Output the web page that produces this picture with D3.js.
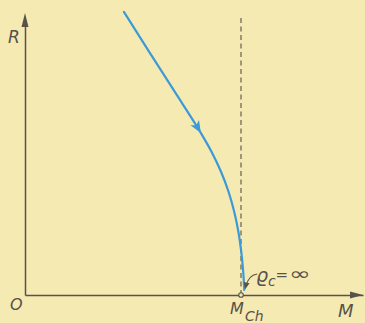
<!DOCTYPE html>
<html><head><meta charset="utf-8">
<script src="https://cdn.jsdelivr.net/npm/d3@7"></script>
<style>
html,body{margin:0;padding:0;background:#f6eab3;}
svg{display:block;}
</style></head>
<body>
<svg id="c" width="365" height="323"></svg>
<script>
// Mass (in units of the Chandrasekhar mass) and relative radius along the curve
const massValues   = [0.458, 0.575, 0.693, 0.810, 0.863, 0.907, 0.942, 0.968, 0.9875, 1.001, 1.010, 1.015];
const radiusValues = [1.004, 0.862, 0.721, 0.580, 0.509, 0.438, 0.367, 0.297, 0.226, 0.155, 0.085, 0.018];
const chandraMass = [1.0];
const axisLabels = ["R", "M", "O"];

const svg = d3.select("#c");
const W = 365, H = 323;
const x = d3.scaleLinear().domain([0, 1]).range([25, 241]);
const y = d3.scaleLinear().domain([0, 1]).range([295, 13]);
const ink = "#57524a";
const blue = "#3b9ad8";
const bg = "#f6eab3";

svg.append("rect").attr("width", W).attr("height", H).attr("fill", bg);

// axes (no ticks)
const xAxis = d3.axisBottom(d3.scaleLinear().domain([0, 1.565]).range([x(0), x(1.565)])).tickValues([]).tickSizeOuter(0);
const yAxis = d3.axisLeft(d3.scaleLinear().domain([0, 0.96]).range([y(0), y(0.96)])).tickValues([]).tickSizeOuter(0);
svg.append("g").attr("transform", `translate(0,${y(0)})`).call(xAxis)
  .select(".domain").attr("stroke", ink).attr("stroke-width", 1.5);
svg.append("g").attr("transform", `translate(${x(0)},0)`).call(yAxis)
  .select(".domain").attr("stroke", ink).attr("stroke-width", 1.5);

const xe = x(1.565), ye = y(1.0), y0 = y(0), x0 = x(0);
svg.append("path").attr("d", `M${xe},${y0} L${xe-13},${y0-3.5} L${xe-13},${y0+3.5} Z`).attr("fill", ink);
svg.append("path").attr("d", `M${x0},${ye} L${x0-3.5},${ye+14} L${x0+3.5},${ye+14} Z`).attr("fill", ink);

// dashed Chandrasekhar limit line
svg.append("line")
  .attr("x1", x(chandraMass[0])).attr("x2", x(chandraMass[0]))
  .attr("y1", y(0)).attr("y2", y(0.985))
  .attr("stroke", ink).attr("stroke-width", 1.1).attr("stroke-dasharray", "5,3.5");

// curve
const pts = massValues.map((m, i) => [x(m), y(radiusValues[i])]);
const line = d3.line().curve(d3.curveMonotoneY);
const path = svg.append("path").attr("d", line(pts))
  .attr("fill", "none").attr("stroke", blue).attr("stroke-width", 2.2).attr("stroke-linecap", "round");

// direction arrow on curve at point index 3
(function(){
  const node = path.node();
  const L = node.getTotalLength();
  let best = 0, bd = 1e9;
  for (let l = 0; l <= L; l += 0.5) {
    const p = node.getPointAtLength(l);
    const d = (p.x - pts[3][0]) ** 2 + (p.y - pts[3][1]) ** 2;
    if (d < bd) { bd = d; best = l; }
  }
  const p = node.getPointAtLength(best), q = node.getPointAtLength(best - 3);
  const ang = Math.atan2(p.y - q.y, p.x - q.x) * 180 / Math.PI;
  svg.append("path").attr("d", "M2,0 L-10,-5 L-7,0 L-10,5 Z")
    .attr("transform", `translate(${p.x},${p.y}) rotate(${ang})`)
    .attr("fill", blue);
})();

// small circle at M_Ch
svg.append("circle").attr("cx", x(chandraMass[0])).attr("cy", y(0)).attr("r", 2.3)
  .attr("fill", bg).attr("stroke", ink).attr("stroke-width", 1.1);

// leader arrow for rho_c = infinity
const tip = pts[pts.length - 1];
svg.append("path").attr("d", `M${tip[0]+13},${tip[1]-16} Q${tip[0]+4},${tip[1]-15} ${tip[0]+1.5},${tip[1]-3}`)
  .attr("fill", "none").attr("stroke", ink).attr("stroke-width", 1.1);
svg.append("path").attr("d", "M0,0 L-7,-3 L-7,3 Z")
  .attr("transform", `translate(${tip[0]+0.8},${tip[1]-0.5}) rotate(103)`)
  .attr("fill", ink);

const font = "'DejaVu Sans', sans-serif";
const lab = (t, px, py, size) => svg.append("text").attr("x", px).attr("y", py)
  .attr("font-family", font).attr("font-style", "italic").attr("font-size", size)
  .attr("fill", ink).text(t);

lab(axisLabels[0], 8, 43, 17);
lab(axisLabels[1], 338, 317, 18);
lab(axisLabels[2], 10, 310, 16);
// M_Ch
lab("M", 230, 314, 16);
lab("Ch", 245, 321, 14);
// rho_c = inf
lab("ϱ", 256, 282, 19);
lab("c", 268, 286, 14);
svg.append("text").attr("x", 275.5).attr("y", 280).attr("font-family", font).attr("font-size", 15).attr("fill", ink).text("=");
svg.append("text").attr("transform", "translate(289,280) scale(1.45,1)").attr("font-family", font).attr("font-size", 18).attr("fill", ink).text("∞");
</script>
</body></html>
